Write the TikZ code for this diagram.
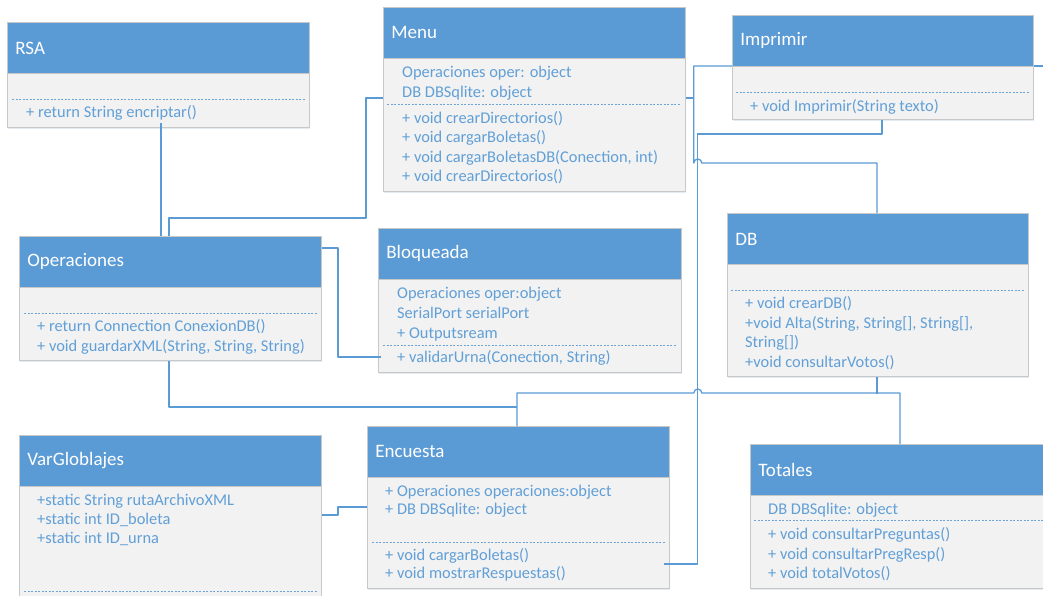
\documentclass[tikz,border=0pt]{standalone}
\usepackage{fontspec}
\setmainfont{Carlito}
\usetikzlibrary{calc,shadows}

\definecolor{umlblue}{HTML}{5B9BD5}
\definecolor{umltext}{HTML}{619FD7}
\definecolor{umlbody}{HTML}{F2F2F2}
\definecolor{umlframe}{HTML}{C8C8C8}

\tikzset{
  classbox/.style={draw=umlframe, fill=umlbody, line width=0.8pt,
    minimum width=302pt, anchor=north west, inner sep=0pt,
    drop shadow={shadow xshift=0.6pt, shadow yshift=-1.8pt, opacity=0.18, fill=umlblue!60!gray}},
  classhead/.style={draw=umlframe, fill=umlblue, line width=0.8pt,
    minimum width=302pt, minimum height=51pt, anchor=north west,
    inner xsep=8pt, inner ysep=0pt, text width=286pt, align=left,
    text=white, font=\fontsize{19}{23}\selectfont},
  member/.style={anchor=base west, inner sep=0pt, text=umltext,
    font=\fontsize{16.4}{19.5}\selectfont},
  sep/.style={draw=umlblue!90, line width=1pt, dash pattern=on 2.2pt off 1.3pt},
  conn/.style={draw=umlblue, line width=1.3pt, line join=round},
}

\begin{document}
\begin{tikzpicture}[x=1pt,y=-1pt]
\useasboundingbox (0,0) rectangle (1043,595);
\clip (0,0) rectangle (1043,595);
\fill[white] (0,0) rectangle (1043,595);

% ---------- classes ----------
% RSA
\node[classbox, minimum height=105pt] (rsa) at (7,22) {};
\node[classhead] (rsa-h) at (rsa.north west) {RSA};
\draw[sep] ($(rsa.north west)+(5,77)$) -- ($(rsa.north east)+(-5,77)$);
\node[member] (rsa-m1) at (26,117) {+ return String encriptar()};

% Menu
\node[classbox, minimum height=184pt] (menu) at (383,7) {};
\node[classhead] (menu-h) at (menu.north west) {Menu};
\draw[sep] ($(menu.north west)+(4,97)$) -- ($(menu.north east)+(-5,97)$);
\node[member] (menu-a1) at (402,77) {Operaciones oper: object};
\node[member] (menu-a2) at (402,97) {DB DBSqlite: object};
\node[member] (menu-m1) at (402,123) {+ void crearDirectorios()};
\node[member] (menu-m2) at (402,142) {+ void cargarBoletas()};
\node[member] (menu-m3) at (402,162) {+ void cargarBoletasDB(Conection, int)};
\node[member] (menu-m4) at (402,181) {+ void crearDirectorios()};

% Imprimir
\node[classbox, minimum height=104pt, minimum width=301pt] (imp) at (732,15) {};
\node[classhead, minimum width=301pt, text width=285pt] (imp-h) at (imp.north west) {Imprimir};
\draw[sep] ($(imp.north west)+(4,77)$) -- ($(imp.north east)+(-5,77)$);
\node[member] (imp-m1) at (750,111) {+ void Imprimir(String texto)};

% Operaciones
\node[classbox, minimum height=124pt] (ops) at (19,236) {};
\node[classhead] (ops-h) at (ops.north west) {Operaciones};
\draw[sep] ($(ops.north west)+(5,77)$) -- ($(ops.north east)+(-5,77)$);
\node[member] (ops-m1) at (37,331) {+ return Connection ConexionDB()};
\node[member] (ops-m2) at (37,351) {+ void guardarXML(String, String, String)};

% Bloqueada
\node[classbox, minimum height=144pt, minimum width=303pt] (bloq) at (378,228) {};
\node[classhead, minimum width=303pt, text width=287pt] (bloq-h) at (bloq.north west) {Bloqueada};
\draw[sep] ($(bloq.north west)+(5,117)$) -- ($(bloq.north east)+(-6,117)$);
\node[member] (bloq-a1) at (397,298) {Operaciones oper:object};
\node[member] (bloq-a2) at (397,318) {SerialPort serialPort};
\node[member] (bloq-a3) at (397,338) {+ Outputsream};
\node[member] (bloq-m1) at (397,362) {+ validarUrna(Conection, String)};

% DB
\node[classbox, minimum height=163pt, minimum width=301pt] (db) at (727,213) {};
\node[classhead, minimum width=301pt, text width=285pt] (db-h) at (db.north west) {DB};
\draw[sep] ($(db.north west)+(4,77)$) -- ($(db.north east)+(-5,77)$);
\node[member] (db-m1) at (745,308) {+ void crearDB()};
\node[member] (db-m2) at (745,328) {+void Alta(String, String[], String[],};
\node[member] (db-m2b) at (745,347) {String[])};
\node[member] (db-m3) at (745,367) {+void consultarVotos()};

% VarGloblajes
\node[classbox, minimum height=200pt] (varg) at (19,435) {};
\node[classhead] (varg-h) at (varg.north west) {VarGloblajes};
\node[member] (varg-a1) at (37,505) {+static String rutaArchivoXML};
\node[member] (varg-a2) at (37,524) {+static int ID\_boleta};
\node[member] (varg-a3) at (37,543) {+static int ID\_urna};
\draw[sep] ($(varg.north west)+(5,156)$) -- ($(varg.north east)+(-5,156)$);

% Encuesta
\node[classbox, minimum height=162pt] (enc) at (367,426) {};
\node[classhead] (enc-h) at (enc.north west) {Encuesta};
\draw[sep] ($(enc.north west)+(5,116)$) -- ($(enc.north east)+(-5,116)$);
\node[member] (enc-a1) at (385,496) {+ Operaciones operaciones:object};
\node[member] (enc-a2) at (385,514) {+ DB DBSqlite: object};
\node[member] (enc-m1) at (385,560) {+ void cargarBoletas()};
\node[member] (enc-m2) at (385,578) {+ void mostrarRespuestas()};

% Totales
\node[classbox, minimum height=144pt, minimum width=330pt] (tot) at (750,444) {};
\node[classhead, minimum width=330pt, text width=314pt] (tot-h) at (tot.north west) {Totales};
\draw[sep] ($(tot.north west)+(4,76)$) -- ($(tot.north east)+(-5,76)$);
\node[member] (tot-a1) at (768,514) {DB DBSqlite: object};
\node[member] (tot-m1) at (768,539) {+ void consultarPreguntas()};
\node[member] (tot-m2) at (768,559) {+ void consultarPregResp()};
\node[member] (tot-m3) at (768,578) {+ void totalVotos()};

% ---------- connectors ----------
\coordinate (offright) at (1050,66);

% RSA -- Operaciones
\draw[conn] ($(rsa.south west)+(154,-5)$) -- ($(ops.north west)+(142,0)$);

% Operaciones -- Menu
\draw[conn] ($(ops.north west)+(150,0)$) |- ($(menu.north west)+(-17,211)$)
  |- ($(menu.north west)+(0,91)$);

% Operaciones -- Bloqueada
\draw[conn] ($(ops.north east)+(0,12)$) -| ($(bloq.north west)+(-40,129)$)
  -- ($(bloq.north west)+(3,129)$);

% Encuesta -- Totales, with a hop over the vertical line
\draw[conn] ($(enc.north west)+(150,0)$) -- ($(enc.north west)+(150,-33)$)
  -- ($(enc.north east)+(24,-33)$) arc[start angle=180, end angle=0, radius=4pt]
  -| ($(tot.north west)+(150,0)$);

% DB -- Encuesta/Totales bus
\draw[conn] ($(db.south west)+(150,0)$) -- ($(db.south west)+(150,17)$);

% Operaciones -- Encuesta
\draw[conn] ($(ops.south west)+(150,0)$) |- ($(enc.north west)+(150,-19)$);

% Imprimir -- DB, joined by Menu
\draw[conn] ($(imp.north west)+(0,51)$) -| ($(menu.north east)+(8,156)$)
  arc[start angle=180, end angle=0, radius=4pt]
  -| ($(db.north west)+(150,0)$);
\draw[conn] ($(menu.north east)+(0,91)$) -- ($(menu.north east)+(8,91)$);

% Imprimir -- Encuesta
\draw[conn] ($(imp.south west)+(150,0)$) |- ($(enc.north east)+(28,-292)$)
  |- ($(enc.north east)+(-6,138)$);

% VarGloblajes -- Encuesta
\draw[conn] ($(varg.north east)+(0,80)$) -| ($(enc.north west)+(-29,81)$)
  -- ($(enc.north west)+(0,81)$);

% Imprimir -- off to the right
\draw[conn] ($(imp.north east)+(0,51)$) -- (offright);

\end{tikzpicture}
\end{document}
